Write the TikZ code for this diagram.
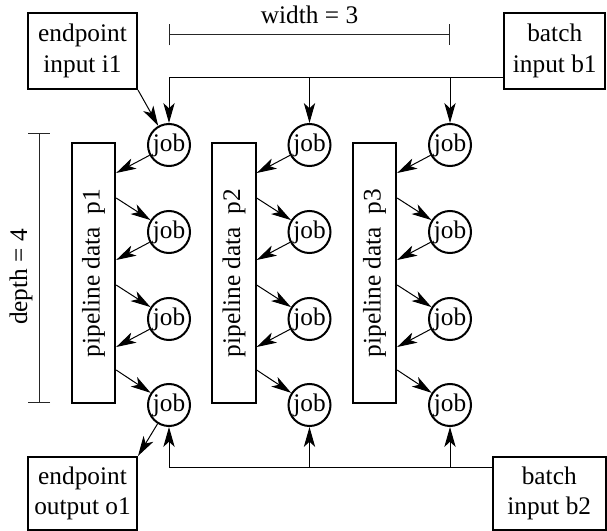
\documentclass[tikz,border=0pt]{standalone}
\usepackage{fontspec}
\setmainfont{Liberation Serif}
\usetikzlibrary{arrows.meta}
\begin{document}
\begin{tikzpicture}[x=0.75pt,y=-0.75pt,
  every node/.style={font=\fontsize{19}{23}\selectfont},
  box/.style={draw, line width=1.5pt, inner sep=0pt, align=center},
  jobnode/.style={draw, circle, line width=1.5pt, minimum size=31.5pt, inner sep=0pt},
  pipe/.style={draw, line width=1.5pt, minimum width=32.5pt, minimum height=195pt, inner sep=0pt},
  conn/.style={line width=0.75pt, -{Stealth[length=15pt,width=8.5pt,inset=4pt]}},
  plain/.style={line width=0.75pt},
  dimline/.style={line width=0.75pt, black!85}]
\useasboundingbox (0,0) rectangle (607,531);
% boxes
\node[box, minimum width=81.75pt, minimum height=57pt] (i1) at (82.5,51) {endpoint\\input i1};
\node[box, minimum width=76pt, minimum height=57pt] (b1) at (554.75,51) {batch\\input b1};
\node[box, minimum width=81.75pt, minimum height=54.75pt] (o1) at (82.5,493.5) {endpoint\\output o1};
\node[box, minimum width=84.4pt, minimum height=54.75pt] (b2) at (549.25,493.5) {batch\\input b2};
% jobs and pipelines
\foreach \c/\x in {1/169,2/309.5,3/450} {
  \foreach \r/\y in {1/145,2/232,3/319,4/405} {
    \node[jobnode] (j\c\r) at (\x,\y) {job};
  }
  \node[pipe] (p\c) at (\x-75.5,273) {\rotatebox{90}{pipeline data~~p\c}};
  \foreach \r/\s/\yi/\yo in {1/2/173/198, 2/3/260/285, 3/4/347/370} {
    \coordinate (in\c\r) at (p\c.east |- 0,\yi);
    \coordinate (out\c\r) at (p\c.east |- 0,\yo);
    \draw[conn] (j\c\r) -- (in\c\r);
    \draw[conn] (out\c\r) -- (j\c\s);
  }
}
% batch input b1
\coordinate (tb) at (169,78);
\draw[plain] (b1.west |- tb) -- (tb);
\draw[conn] (tb) -- (j11);
\draw[conn] (tb -| j21) -- (j21);
\draw[conn] (tb -| j31) -- (j31);
% batch input b2
\coordinate (bb) at (169,467);
\draw[plain] (b2.west |- bb) -- (bb);
\draw[conn] (bb) -- (j14);
\draw[conn] (bb -| j24) -- (j24);
\draw[conn] (bb -| j34) -- (j34);
% endpoints
\draw[conn] (i1.south east) -- (j11);
\draw[conn] (j14) -- (o1.north east);
% width dimension
\coordinate (wl) at (169,35);
\coordinate (wr) at (450,35);
\draw[dimline, {Bar[width=15.75pt]}-{Bar[width=15.75pt]}] (wl) -- (wr);
\node (wlabel) at (309.5,15) {width = 3};
% depth dimension
\coordinate (dt) at (39,133);
\coordinate (db) at (39,403);
\draw[dimline, {Bar[width=16.5pt]}-{Bar[width=16.5pt]}] (dt) -- (db);
\node[rotate=90] (dlabel) at (21,277) {depth = 4};
\end{tikzpicture}
\end{document}
